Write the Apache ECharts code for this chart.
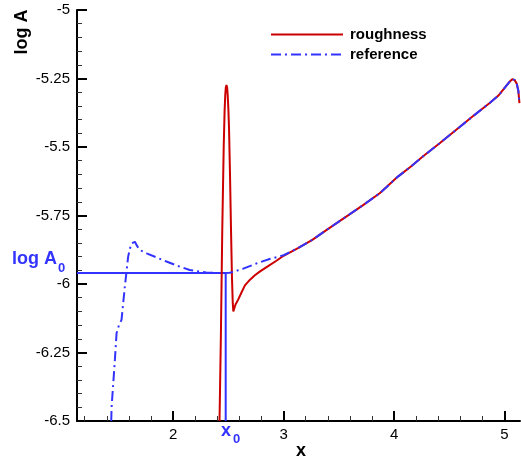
<!DOCTYPE html>
<html>
<head>
<meta charset="utf-8">
<script src="https://cdn.jsdelivr.net/npm/echarts@6/dist/echarts.min.js"></script>
<style>
  html,body{margin:0;padding:0;background:#fff;}
  #main{width:521px;height:459px;}
</style>
</head>
<body>
<div id="main"></div>
<script>
// roughness curve (x, log A)
var roughX = [2.42, 2.432, 2.445, 2.458, 2.466, 2.472, 2.477, 2.483, 2.489, 2.494, 2.5, 2.506, 2.515, 2.525, 2.533, 2.54, 2.545, 2.549,
  2.555, 2.565, 2.588, 2.62, 2.65, 2.694, 2.74, 2.784, 2.86, 2.935, 3.0, 3.13, 3.26, 3.41, 3.567, 3.72, 3.87, 4.035, 4.15, 4.26, 4.41, 4.56, 4.71, 4.863, 4.95, 5.01, 5.045, 5.07, 5.09, 5.11, 5.125, 5.135];
var roughY = [-6.5, -6.2, -5.8, -5.5, -5.37, -5.31, -5.283, -5.274, -5.283, -5.31, -5.36, -5.43, -5.6, -5.82, -5.98, -6.07, -6.1, -6.107,
  -6.095, -6.075, -6.058, -6.03, -6.005, -5.985, -5.968, -5.955, -5.935, -5.915, -5.897, -5.869, -5.839, -5.797, -5.754, -5.712, -5.669, -5.608, -5.572, -5.535, -5.487, -5.438, -5.389, -5.34, -5.31, -5.28, -5.262, -5.253, -5.255, -5.268, -5.295, -5.34];
// reference curve
var refX = [1.44, 1.443, 1.473, 1.488, 1.51, 1.533, 1.563, 1.593, 1.61, 1.624, 1.64, 1.654, 1.675, 1.699, 1.76, 1.85, 1.94, 2.05, 2.15, 2.3, 2.4, 2.513, 2.63, 2.754, 2.88,
  3.0, 3.13, 3.26, 3.41, 3.567, 3.72, 3.87, 4.035, 4.15, 4.26, 4.41, 4.56, 4.71, 4.863, 4.95, 5.01, 5.045, 5.07, 5.09, 5.11, 5.125, 5.135];
var refY = [-6.5, -6.45, -6.277, -6.18, -6.15, -6.131, -6.01, -5.9, -5.87, -5.852, -5.846, -5.846, -5.862, -5.876, -5.888, -5.903, -5.918, -5.935, -5.949, -5.958, -5.96, -5.959, -5.945, -5.925, -5.908,
  -5.895, -5.869, -5.839, -5.797, -5.754, -5.712, -5.669, -5.608, -5.572, -5.535, -5.487, -5.438, -5.389, -5.34, -5.31, -5.28, -5.262, -5.253, -5.255, -5.268, -5.295, -5.34];
var logA0 = -5.96;
var x0 = 2.476;
var xMajor = [2, 3, 4, 5];
var xMinor = [1.2, 1.4, 1.6, 1.8, 2.2, 2.4, 2.6, 2.8, 3.2, 3.4, 3.6, 3.8, 4.2, 4.4, 4.6, 4.8];

function pairs(xs, ys){
  var out = [];
  for (var i = 0; i < xs.length; i++) out.push([xs[i], ys[i]]);
  return out;
}

var FONT = 'Liberation Sans, Arial, sans-serif';
var BLUE = '#3333ff', RED = '#cc0000';

var myChart = echarts.init(document.getElementById('main'));
var option = {
  animation: false,
  grid: {left: 77, right: 1, top: 10, bottom: 38},
  legend: {
    data: ['roughness', 'reference'],
    orient: 'vertical',
    left: 265, top: 22,
    itemWidth: 72, itemHeight: 14, itemGap: 5,
    itemStyle: {opacity: 0},
    textStyle: {fontFamily: FONT, fontSize: 15, fontWeight: 'bold', color: '#000', padding: [0, 0, 0, 2]}
  },
  xAxis: [{
    type: 'value', min: 1.13, max: 5.14,
    axisLine: {lineStyle: {color: '#000', width: 2}},
    axisTick: {inside: true, length: 10, customValues: xMajor, lineStyle: {color: '#000', width: 2}},
    axisLabel: {customValues: xMajor, fontFamily: FONT, fontSize: 15, color: '#000', margin: 6},
    splitLine: {show: false}
  }, {
    type: 'value', min: 1.13, max: 5.14, position: 'bottom',
    axisLine: {show: false},
    axisTick: {inside: true, length: 5, customValues: xMinor, lineStyle: {color: '#333', width: 1}},
    axisLabel: {show: false},
    splitLine: {show: false}
  }],
  yAxis: {
    type: 'value', min: -6.5, max: -5, interval: 0.25,
    axisLine: {show: true, lineStyle: {color: '#000', width: 2}},
    axisTick: {show: true, inside: true, length: 10, lineStyle: {color: '#000', width: 2}},
    minorTick: {show: true, splitNumber: 5, length: 5, lineStyle: {color: '#333', width: 1}},
    axisLabel: {fontFamily: FONT, fontSize: 15, color: '#000', margin: 7},
    splitLine: {show: false}
  },
  series: [{
    name: 'A0 marker', type: 'line', symbol: 'none', silent: true,
    data: [[1.13, logA0], [x0, logA0], [x0, -6.5]],
    lineStyle: {color: BLUE, width: 2}
  }, {
    name: 'roughness', type: 'line', symbol: 'none',
    data: pairs(roughX, roughY),
    itemStyle: {color: RED},
    lineStyle: {color: RED, width: 2}
  }, {
    name: 'reference', type: 'line', symbol: 'none',
    data: pairs(refX, refY),
    itemStyle: {color: BLUE},
    lineStyle: {color: BLUE, width: 2, type: [10, 4, 2, 4]}
  }],
  graphic: [
    {type: 'text', x: 22, y: 32, rotation: Math.PI / 2,
      style: {text: 'log A', fontFamily: FONT, fontSize: 18, fontWeight: 'bold', fill: '#000', align: 'center', verticalAlign: 'middle'}},
    {type: 'text', x: 301, y: 451,
      style: {text: 'x', fontFamily: FONT, fontSize: 18, fontWeight: 'bold', fill: '#000', align: 'center', verticalAlign: 'middle'}},
    {type: 'text', x: 12, y: 259,
      style: {text: 'log A', fontFamily: FONT, fontSize: 18, fontWeight: 'bold', fill: BLUE, align: 'left', verticalAlign: 'middle'}},
    {type: 'text', x: 58, y: 268,
      style: {text: '0', fontFamily: FONT, fontSize: 13, fontWeight: 'bold', fill: BLUE, align: 'left', verticalAlign: 'middle'}},
    {type: 'text', x: 226, y: 431,
      style: {text: 'x', fontFamily: FONT, fontSize: 18, fontWeight: 'bold', fill: BLUE, align: 'center', verticalAlign: 'middle'}},
    {type: 'text', x: 233, y: 439,
      style: {text: '0', fontFamily: FONT, fontSize: 13, fontWeight: 'bold', fill: BLUE, align: 'left', verticalAlign: 'middle'}}
  ]
};
myChart.setOption(option);
</script>
</body>
</html>
